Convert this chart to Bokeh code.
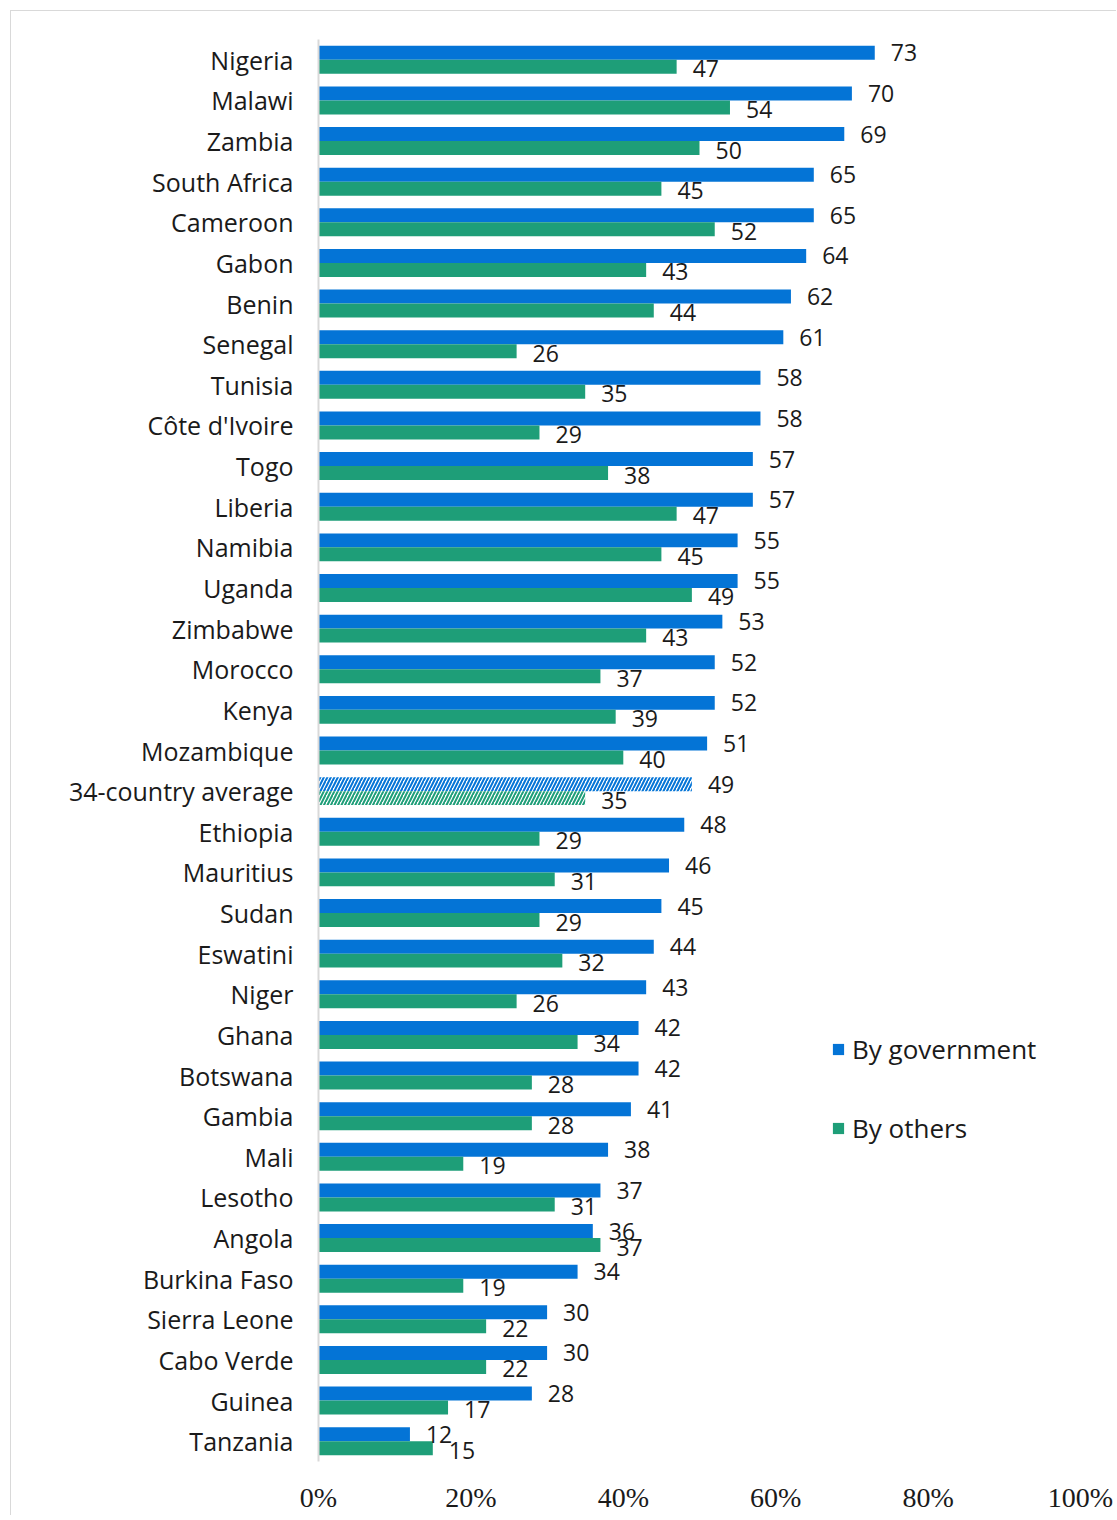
from bokeh.plotting import figure
from bokeh.models import ColumnDataSource, FactorRange, FixedTicker, PrintfTickFormatter, Legend, LegendItem
from bokeh.transform import dodge
from bokeh.core.properties import value
from bokeh.embed import file_html
from bokeh.resources import INLINE

countries = ["Nigeria", "Malawi", "Zambia", "South Africa", "Cameroon", "Gabon", "Benin", "Senegal",
             "Tunisia", "Côte d'Ivoire", "Togo", "Liberia", "Namibia", "Uganda", "Zimbabwe", "Morocco",
             "Kenya", "Mozambique", "34-country average", "Ethiopia", "Mauritius", "Sudan", "Eswatini",
             "Niger", "Ghana", "Botswana", "Gambia", "Mali", "Lesotho", "Angola", "Burkina Faso",
             "Sierra Leone", "Cabo Verde", "Guinea", "Tanzania"]
by_government = [73, 70, 69, 65, 65, 64, 62, 61, 58, 58, 57, 57, 55, 55, 53, 52, 52, 51, 49, 48, 46, 45,
                 44, 43, 42, 42, 41, 38, 37, 36, 34, 30, 30, 28, 12]
by_others = [47, 54, 50, 45, 52, 43, 44, 26, 35, 29, 38, 47, 45, 49, 43, 37, 39, 40, 35, 29, 31, 29,
             32, 26, 34, 28, 28, 19, 31, 37, 19, 22, 22, 17, 15]
x_ticks = [0, 20, 40, 60, 80, 100]
average_label = "34-country average"

BLUE = "#0474D6"
GREEN = "#1E9E78"
FONT = "Open Sans"

is_avg = [c == average_label for c in countries]


def pick(seq, want):
    return [v for v, a in zip(seq, is_avg) if a == want]


def make_src(want):
    return ColumnDataSource(dict(
        country=pick(countries, want),
        gov=pick(by_government, want),
        oth=pick(by_others, want),
        gov_lbl=[str(v) for v in pick(by_government, want)],
        oth_lbl=[str(v) for v in pick(by_others, want)],
    ))


src = make_src(False)
avg_src = make_src(True)

p = figure(width=1106, height=1505, output_backend="svg", toolbar_location=None,
           y_range=FactorRange(*list(reversed(countries)), range_padding=0),
           x_range=(0, 100),
           min_border_left=307, min_border_right=37, min_border_top=28, min_border_bottom=55)
p.styles = {"border-left": "1px solid #d9d9d9", "border-top": "1px solid #d9d9d9",
            "margin-left": "10px", "margin-top": "10px"}
p.outline_line_color = None
p.xgrid.visible = False
p.ygrid.visible = False

H = 0.344
OFF = 0.172
rb = p.hbar(y=dodge("country", OFF, range=p.y_range), right="gov", left=0, height=H,
            fill_color=BLUE, line_color=None, source=src)
rg = p.hbar(y=dodge("country", -OFF, range=p.y_range), right="oth", left=0, height=H,
            fill_color=GREEN, line_color=None, source=src)
p.hbar(y=dodge("country", OFF, range=p.y_range), right="gov", left=0, height=H,
       fill_color="white", line_color=None, hatch_pattern="right_diagonal_line",
       hatch_color=BLUE, hatch_scale=7, hatch_weight=2, source=avg_src)
p.hbar(y=dodge("country", -OFF, range=p.y_range), right="oth", left=0, height=H,
       fill_color="white", line_color=None, hatch_pattern="right_diagonal_line",
       hatch_color=GREEN, hatch_scale=7, hatch_weight=2, source=avg_src)

for s in (src, avg_src):
    p.text(x="gov", y=dodge("country", OFF, range=p.y_range), text="gov_lbl", source=s,
           x_offset=16, y_offset=0, text_align="left", text_baseline="middle",
           text_font=value(FONT), text_font_size="23px", text_color="#1a1a1a")
    p.text(x="oth", y=dodge("country", -OFF, range=p.y_range), text="oth_lbl", source=s,
           x_offset=16, y_offset=2, text_align="left", text_baseline="middle",
           text_font=value(FONT), text_font_size="23px", text_color="#1a1a1a")

# axes
p.yaxis.axis_line_color = "#d9d9d9"
p.yaxis.axis_line_width = 2
p.yaxis.major_tick_line_color = None
p.yaxis.minor_tick_line_color = None
p.yaxis.major_label_standoff = 19
p.yaxis.major_label_text_font = FONT
p.yaxis.major_label_text_font_size = "25px"
p.yaxis.major_label_text_color = "#1a1a1a"

p.xaxis.axis_line_color = None
p.xaxis.major_tick_line_color = None
p.xaxis.minor_tick_line_color = None
p.xaxis.ticker = FixedTicker(ticks=x_ticks)
p.xaxis.formatter = PrintfTickFormatter(format="%d%%")
p.xaxis.major_label_standoff = 14
p.xaxis.major_label_text_font = "Liberation Sans Narrow"
p.xaxis.major_label_text_font_size = "28px"
p.xaxis.major_label_text_color = "#1a1a1a"

legend = Legend(items=[LegendItem(label="By government", renderers=[rb]),
                       LegendItem(label="By others", renderers=[rg])],
                location=(513, 315), orientation="vertical",
                glyph_width=14, glyph_height=14, label_height=30, spacing=43,
                label_text_font=FONT, label_text_font_size="26px", label_text_color="#1a1a1a",
                label_standoff=7, border_line_color=None, background_fill_alpha=0,
                padding=0, margin=0)
p.add_layout(legend, "center")

open("out.html", "w").write(file_html(p, INLINE))
